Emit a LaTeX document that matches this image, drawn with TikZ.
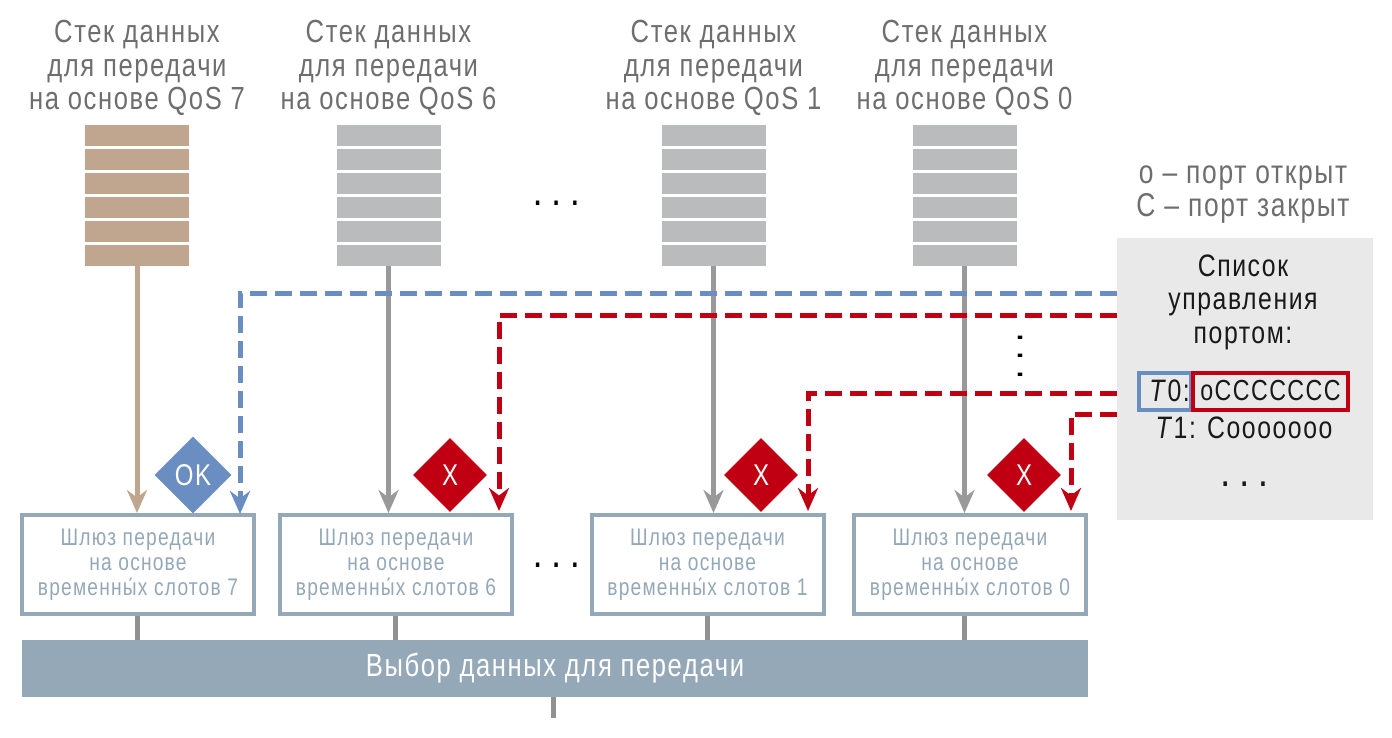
\documentclass[tikz,border=0pt]{standalone}
\usepackage{fontspec}
\setmainfont[FakeStretch=0.8,LetterSpace=5]{Liberation Sans}
\usetikzlibrary{positioning, arrows.meta, shapes.geometric}
\definecolor{stackbrown}{HTML}{C1A68F}
\definecolor{stackgray}{HTML}{BABBBC}
\definecolor{linegray}{HTML}{999999}
\definecolor{textgray}{HTML}{6E6E6E}
\definecolor{gateblue}{HTML}{94A8B8}
\definecolor{okblue}{HTML}{6A8EC1}
\definecolor{denyred}{HTML}{C00012}
\definecolor{panelgray}{HTML}{E9E9E9}
\newcommand{\threedots}{\textbf{.\hspace{12pt}.\hspace{12pt}.}}
\tikzset{>={Stealth[length=23pt,width=20pt]}, % the heavy arrow heads
	stackbar/.style={minimum width=104, minimum height=21, inner sep=0, outer sep=0},
	headtext/.style={align=center, text=textgray, font=\fontsize{32}{33.5}\selectfont},
	gatebox/.style={draw=gateblue, line width=4pt, minimum width=232, minimum height=99, inner sep=0, align=center, text=gateblue, font=\fontsize{24}{25}\selectfont},
	flag/.style={diamond, aspect=1, inner sep=0, minimum size=74, text=white, font=\fontsize{30}{30}\selectfont},
	feed/.style={line width=5pt, ->},
	stub/.style={line width=5pt, draw=linegray!95!black},
	okline/.style={draw=okblue, line width=5pt, dash pattern=on 17pt off 8pt, ->},
	denyline/.style={draw=denyred, line width=5pt, dash pattern=on 17pt off 8pt, ->},
	listtext/.style={align=center, text=black!90, font=\fontsize{31}{33.5}\selectfont},
}
\begin{document}
\begin{tikzpicture}[x=1pt, y=-1pt]
	\useasboundingbox (0,0) rectangle (1392,738);
	% the panel goes first, the lines stop at its edge
	\node[fill=panelgray, minimum width=256, minimum height=282, inner sep=0, outer sep=0] (panel) at (1245,379) {};
	\node[listtext] (listname) at (1243,302) {Список\\управления\\портом:};
	\node[draw=okblue, line width=4pt, minimum width=52, minimum height=37, inner sep=0] (rowzero) at (1165,391) {};
	\node[draw=denyred, line width=4pt, minimum width=155, minimum height=37, inner sep=0, listtext, font=\fontsize{29}{30}\selectfont] (bitszero) at (1270.5,391) {оCCCCCCC};
	\node[listtext, anchor=east, inner sep=0] (labelzero) at (1190,391) {\textit{T}0:};
	\node[listtext] (rowone) at (1244,428) {\textit{T}1: Cooooooo};
	\node[listtext] (listdots) at (1245,484) {\threedots};
	\node[headtext, font=\fontsize{33}{33}\selectfont] (legend) at (1243,195) {о – порт открыт\\С – порт закрыт};

	%% stacks, gates and what joins them
	\foreach \n/\x/\gx/\sx/\col in {7/137/138/137/stackbrown, 6/388.5/396/396/stackgray, 1/713.5/707.5/707/stackgray, 0/964.5/970/964/stackgray} {
		\node[headtext] (head\n) at (\x,68) {Стек данных\\для передачи\\на основе QoS \n};
		\foreach \k in {0,...,5}
			\node[stackbar, fill=\col] (stack\n-\k) at (\x,136+\k*23.8) {};
		\node[gatebox] (gate\n) at (\gx,564.5) {\raisebox{-3pt}{\parbox{230pt}{\centering Шлюз передачи\\на основе\\временны́х слотов \n}}};
	}
	\node[fill=gateblue, minimum width=1066, minimum height=57, inner sep=0, outer sep=0, text=white, font=\fontsize{32}{33}\selectfont] (select) at (555,668.5) {\raisebox{-2pt}{Выбор данных для передачи}};
	\coordinate (selectout) at (553,718);
	\draw[feed, draw=stackbrown] (stack7-5.south) -- (stack7-5.south |- gate7.north);
	\draw[feed, draw=linegray] (stack6-5.south) -- (stack6-5.south |- gate6.north);
	\draw[feed, draw=linegray] (stack1-5.south) -- (stack1-5.south |- gate1.north);
	\draw[feed, draw=linegray] (stack0-5.south) -- (stack0-5.south |- gate0.north);
	\draw[stub] (137,616 |- gate7.south) -- (137,640 |- select.north);
	\draw[stub] (395,616 |- gate6.south) -- (395,640 |- select.north);
	\draw[stub] (707,616 |- gate1.south) -- (707,640 |- select.north);
	\draw[stub] (964,616 |- gate0.south) -- (964,640 |- select.north);
	\draw[stub] (select.south -| selectout) -- (selectout);

	%% flags on the gates
	\node[flag, fill=okblue, minimum size=77] (flagok) at (193,475) {OK};
	\node[flag, fill=denyred] (flagsix) at (450,475) {X};
	\node[flag, fill=denyred] (flagone) at (761,475) {X};
	\node[flag, fill=denyred] (flagzero) at (1024,475) {X};

	%% the port list drives the gates
	\coordinate (endok) at (240,514);
	\coordinate (endsix) at (499,511);
	\coordinate (endone) at (808,511);
	\coordinate (endzero) at (1071,511);
	\draw[okline] (panel.west |- 0,293) -| (endok);
	\draw[denyline] (panel.west |- 0,315) -| (endsix);
	\draw[denyline] (panel.west |- 0,393) -| (endone);
	\draw[denyline] (panel.west |- 0,414) -| (endzero);

	%% the gaps
	\node[font=\fontsize{30}{33}\selectfont] (dotstack) at (557,203) {\threedots};
	\node[font=\fontsize{30}{33}\selectfont] (dotgate) at (557,565) {\threedots};
	\node[font=\fontsize{30}{33}\selectfont, rotate=-90] (dotlist) at (1020,357) {\threedots};
\end{tikzpicture}
\end{document}
